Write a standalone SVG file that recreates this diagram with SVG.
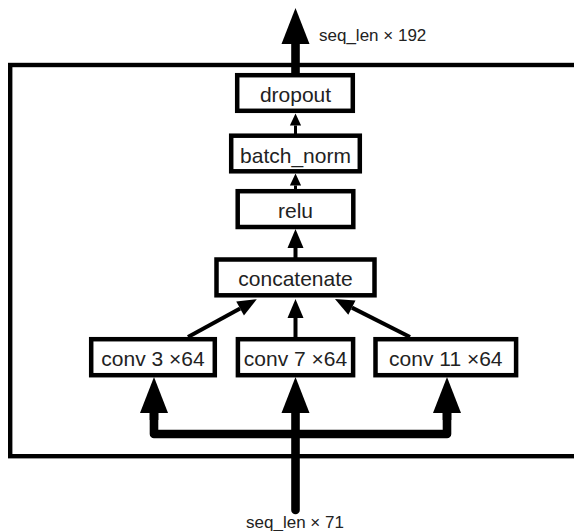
<svg xmlns="http://www.w3.org/2000/svg" width="574" height="531" viewBox="0 0 574 531">
  <style>
    .box { fill: #ffffff; stroke: #000000; stroke-width: 4.5; }
    .lbl { font-family: "Liberation Sans", Arial, Helvetica, sans-serif; font-size: 21px; fill: #222222; text-anchor: middle; }
    .dim { font-family: "Liberation Sans", Arial, Helvetica, sans-serif; font-size: 17px; fill: #222222; }
    .thin { fill: none; stroke: #000000; stroke-width: 3; }
    .mid { fill: none; stroke: #000000; stroke-width: 4; }
    .thick { fill: none; stroke: #000000; stroke-width: 8.6; stroke-linejoin: round; }
  </style>
  <defs>
    <marker id="head-s" markerUnits="userSpaceOnUse" refX="0" refY="0" markerWidth="14" markerHeight="14" orient="auto" overflow="visible">
      <path d="M0,-5.6 L12,0 L0,5.6 z" fill="#000000"/>
    </marker>
    <marker id="head-m" markerUnits="userSpaceOnUse" refX="0" refY="0" markerWidth="22" markerHeight="22" orient="auto" overflow="visible">
      <path d="M0,-8 L19,0 L0,8 z" fill="#000000"/>
    </marker>
    <marker id="head-l" markerUnits="userSpaceOnUse" refX="0" refY="0" markerWidth="40" markerHeight="40" orient="auto" overflow="visible">
      <path d="M0,-14 L36,0 L0,14 z" fill="#000000"/>
    </marker>
  </defs>

  <rect x="0" y="0" width="574" height="531" fill="#ffffff"/>

  <!-- enclosing block frame, open beyond the right edge -->
  <rect x="10.2" y="65" width="700" height="391.2" fill="none" stroke="#000000" stroke-width="4.4"/>

  <g id="connectors">
    <!-- block output -->
    <path class="thick" d="M295.5,78 V44" marker-end="url(#head-l)"/>
    <!-- input fan-out bus -->
    <path class="thick" d="M154,413 V434 H447 V413"/>
    <path class="thick" d="M154,420 V413" marker-end="url(#head-l)"/>
    <path class="thick" d="M447,420 V413" marker-end="url(#head-l)"/>
    <path class="thick" d="M295.5,510 V413" stroke-linecap="round" marker-end="url(#head-l)"/>
    <!-- branches into concatenate -->
    <path class="mid" d="M188,337 L240.1,308.4" marker-end="url(#head-m)"/>
    <path class="mid" d="M295.5,337 V318" marker-end="url(#head-m)"/>
    <path class="mid" d="M410,337 L351.9,307.6" marker-end="url(#head-m)"/>
    <!-- main column -->
    <path class="mid" d="M295.5,258 V248" marker-end="url(#head-m)"/>
    <path class="thin" d="M295.5,190 V185.5" marker-end="url(#head-s)"/>
    <path class="thin" d="M295.5,134 V125.5" marker-end="url(#head-s)"/>
  </g>

  <g id="dropout">
    <rect class="box" x="237.2" y="75.2" width="115.6" height="35.6"/>
    <text class="lbl" x="295.5" y="101.5">dropout</text>
  </g>
  <g id="batch_norm">
    <rect class="box" x="231.2" y="135.7" width="128.6" height="35.6"/>
    <text class="lbl" x="295.5" y="163">batch_norm</text>
  </g>
  <g id="relu">
    <rect class="box" x="237.7" y="191.2" width="115.6" height="35.8"/>
    <text class="lbl" x="295.5" y="218">relu</text>
  </g>
  <g id="concatenate">
    <rect class="box" x="216.5" y="259.5" width="158" height="35.8"/>
    <text class="lbl" x="295.5" y="286">concatenate</text>
  </g>
  <g id="conv3">
    <rect class="box" x="91.2" y="339.2" width="123.6" height="36"/>
    <text class="lbl" x="153" y="366">conv 3 ×64</text>
  </g>
  <g id="conv7">
    <rect class="box" x="237.9" y="339.2" width="115.2" height="36"/>
    <text class="lbl" x="295.5" y="366">conv 7 ×64</text>
  </g>
  <g id="conv11">
    <rect class="box" x="375.5" y="339.2" width="140.6" height="36"/>
    <text class="lbl" x="445.8" y="366">conv 11 ×64</text>
  </g>

  <text class="dim" x="319" y="41">seq_len × 192</text>
  <text class="dim" x="295" y="527.5" text-anchor="middle">seq_len × 71</text>
</svg>
